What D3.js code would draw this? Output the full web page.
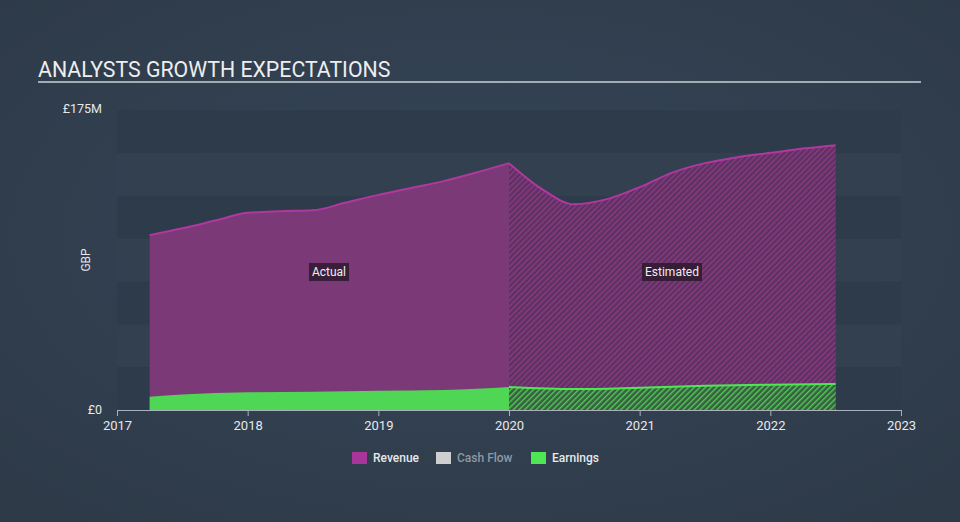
<!DOCTYPE html>
<html><head><meta charset="utf-8">
<script src="https://cdn.jsdelivr.net/npm/d3@7"></script>
<style>html,body{margin:0;padding:0;background:#333f4f;}svg{display:block;font-family:Roboto,"Open Sans",sans-serif;}</style>
</head><body>
<svg id="c" width="960" height="522"></svg>
<script>
// Data (GBP millions)
const revenueActualDates = [2017.25, 2017.5, 2017.75, 2018.0, 2018.25, 2018.5, 2018.75, 2019.0, 2019.25, 2019.5, 2019.75, 2020.0];
const revenueActual      = [102, 106, 110.5, 115, 116, 116.5, 121, 125.5, 129.5, 133.5, 138.5, 144];
const revenueEstDates    = [2020.0, 2020.25, 2020.5, 2020.75, 2021.0, 2021.25, 2021.5, 2021.75, 2022.0, 2022.25, 2022.5];
const revenueEst         = [144, 129, 120, 123, 130, 138.5, 144, 147.5, 150, 152.5, 154.5];
const earningsActualDates = [2017.25, 2017.5, 2018.0, 2018.5, 2019.0, 2019.5, 2020.0];
const earningsActual      = [7.7, 9, 10.3, 10.6, 11.2, 11.6, 13.4];
const earningsEstDates    = [2020.0, 2020.5, 2021.0, 2021.5, 2022.0, 2022.5];
const earningsEst         = [13.4, 12.2, 13.0, 14.1, 14.8, 15.2];
const xTicks = [2017, 2018, 2019, 2020, 2021, 2022, 2023];
const yMax = 175;
const legendItems = ["Revenue", "Cash Flow", "Earnings"];

const svg = d3.select("#c");
const W = 960, H = 522;
const defs = svg.append("defs");
const bg = defs.append("radialGradient").attr("id","bg").attr("cx","50%").attr("cy","45%").attr("r","70%");
bg.append("stop").attr("offset","0%").attr("stop-color","#354558");
bg.append("stop").attr("offset","100%").attr("stop-color","#2e3a48");
svg.append("rect").attr("width",W).attr("height",H).attr("fill","url(#bg)");

function hatch(id, base, line){
  const p = defs.append("pattern").attr("id",id).attr("patternUnits","userSpaceOnUse")
    .attr("width",4).attr("height",4).attr("patternTransform","rotate(45)");
  p.append("rect").attr("width",4).attr("height",4).attr("fill",base);
  p.append("rect").attr("width",1.4).attr("height",4).attr("fill",line);
}
hatch("hRev", "#5e3260", "#8a3a85");
hatch("hEarn", "#36603f", "#55c85a");

const x = d3.scaleLinear().domain([2017, 2023]).range([117, 901]);
const y = d3.scaleLinear().domain([0, yMax]).range([410, 110]);

// bands
const bandStep = 25;
for (let i = 0; i < 7; i++) {
  svg.append("rect").attr("x", 117).attr("width", 784)
    .attr("y", y(bandStep*(i+1))).attr("height", y(bandStep*i) - y(bandStep*(i+1)))
    .attr("fill", i % 2 === 0 ? "#2e3b4a" : "#32404f");
}

// title
svg.append("text").attr("x",38).attr("y",77).attr("fill","#eceef0").attr("font-size",21.3)
  .text("ANALYSTS GROWTH EXPECTATIONS");
svg.append("rect").attr("x",38).attr("y",81).attr("width",883).attr("height",2).attr("fill","#a3abb3");

const curve = d3.curveMonotoneX;
const area = d3.area().x(d=>x(d[0])).y0(y(0)).y1(d=>y(d[1])).curve(curve);
const line = d3.line().x(d=>x(d[0])).y(d=>y(d[1])).curve(curve);
const zip = (a,b)=>a.map((v,i)=>[v,b[i]]);

const ra = zip(revenueActualDates, revenueActual);
const re = zip(revenueEstDates, revenueEst);
const ea = zip(earningsActualDates, earningsActual);
const ee = zip(earningsEstDates, earningsEst);

svg.append("path").attr("d", area(ra)).attr("fill","#7b3977");
svg.append("path").attr("d", area(re)).attr("fill","url(#hRev)");
svg.append("path").attr("d", line(ra)).attr("fill","none").attr("stroke","#b0389f").attr("stroke-width",2);
svg.append("path").attr("d", line(re)).attr("fill","none").attr("stroke","#b0389f").attr("stroke-width",2);

svg.append("path").attr("d", area(ea)).attr("fill","#4fd655");
svg.append("path").attr("d", area(ee)).attr("fill","url(#hEarn)");
svg.append("path").attr("d", line(ee)).attr("fill","none").attr("stroke","#4fe655").attr("stroke-width",2);

// axis
const ax = svg.append("g").attr("transform","translate(0,410)")
  .call(d3.axisBottom(x).tickValues(xTicks).tickFormat(d3.format("d")).tickSize(6).tickSizeOuter(0));
ax.select(".domain").attr("stroke","#a9b1ba");
ax.selectAll(".tick line").attr("stroke","#a9b1ba");
ax.selectAll(".tick text").attr("fill","#e6e8ea").attr("font-size",13).attr("font-family","Roboto").attr("dy","0.85em");

svg.append("text").attr("x",102).attr("y",113).attr("text-anchor","end").attr("fill","#e6e8ea").attr("font-size",12.5).text("£175M");
svg.append("text").attr("x",102).attr("y",414).attr("text-anchor","end").attr("fill","#e6e8ea").attr("font-size",12.5).text("£0");
svg.append("text").attr("transform","translate(90,260) rotate(-90)").attr("text-anchor","middle").attr("fill","#e6e8ea").attr("font-size",12).text("GBP");

function tag(cx, cy, t){
  const g = svg.append("g");
  const tx = g.append("text").attr("x",cx).attr("y",cy+4).attr("text-anchor","middle").attr("fill","#eee").attr("font-size",12).text(t);
  const bb = tx.node().getBBox();
  g.insert("rect","text").attr("x",bb.x-3).attr("y",cy-9).attr("width",bb.width+6).attr("height",18).attr("fill","#2e1a2e").attr("opacity",0.85);
}
tag(329, 272, "Actual");
tag(672, 272, "Estimated");

// legend
const legColors = ["#a8359a", "#cfcfcf", "#4fe655"];
const legX = [352, 436, 531];
legendItems.forEach((n,i)=>{
  svg.append("rect").attr("x",legX[i]).attr("y",452).attr("width",15).attr("height",12).attr("fill",legColors[i]);
  svg.append("text").attr("x",legX[i]+21).attr("y",462).attr("font-size",12).attr("font-weight",500)
    .attr("fill", i===1 ? "#8e99a5" : "#e6e8ea").text(n);
});
</script>
</body></html>
